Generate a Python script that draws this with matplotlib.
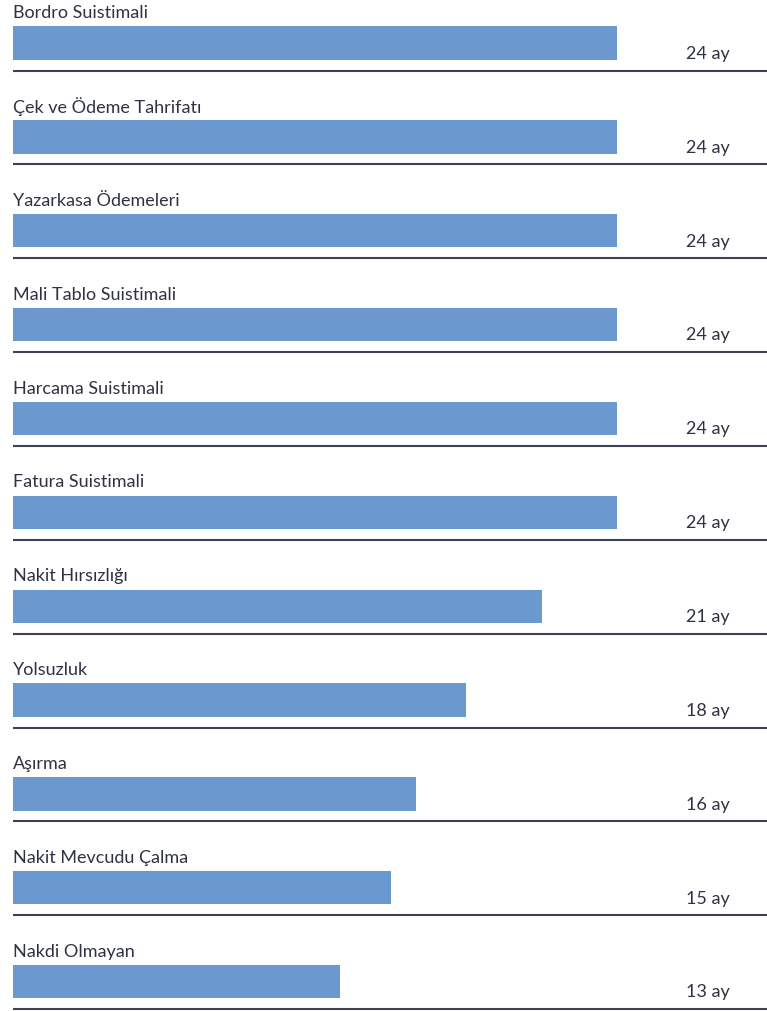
import matplotlib
matplotlib.use("Agg")
import matplotlib.pyplot as plt

categories = [
    "Bordro Suistimali",
    "Çek ve Ödeme Tahrifatı",
    "Yazarkasa Ödemeleri",
    "Mali Tablo Suistimali",
    "Harcama Suistimali",
    "Fatura Suistimali",
    "Nakit Hırsızlığı",
    "Yolsuzluk",
    "Aşırma",
    "Nakit Mevcudu Çalma",
    "Nakdi Olmayan",
]
months = [24, 24, 24, 24, 24, 24, 21, 18, 16, 15, 13]
unit = "ay"

BAR_COLOR = "#6a98cf"
TEXT_COLOR = "#2f3243"
LINE_COLOR = "#3c4155"

plt.rcParams["font.family"] = ["Lato", "DejaVu Sans"]


def main():
    fig = plt.figure(figsize=(7.67, 10.12), dpi=100)
    ax = fig.add_axes([0, 0, 1, 1])
    ax.set_xlim(-0.5165, 29.96)
    ax.set_ylim(10.314, -0.47)
    ax.axis("off")

    rows = range(len(categories))
    ax.barh(list(rows), months, height=0.355, left=0, color=BAR_COLOR)

    for i, (name, val) in enumerate(zip(categories, months)):
        ax.text(0, i - 0.33, name, ha="left", va="center",
                fontsize=13, color=TEXT_COLOR)
        ax.text(28.49, i + 0.105, f"{val} {unit}", ha="right", va="center",
                fontsize=13, color=TEXT_COLOR)
        ax.plot([0, 30], [i + 0.293, i + 0.293], color=LINE_COLOR,
                linewidth=1.5, solid_capstyle="butt")

    fig.savefig("out.png", dpi=100)


if __name__ == '__main__':
    main()
